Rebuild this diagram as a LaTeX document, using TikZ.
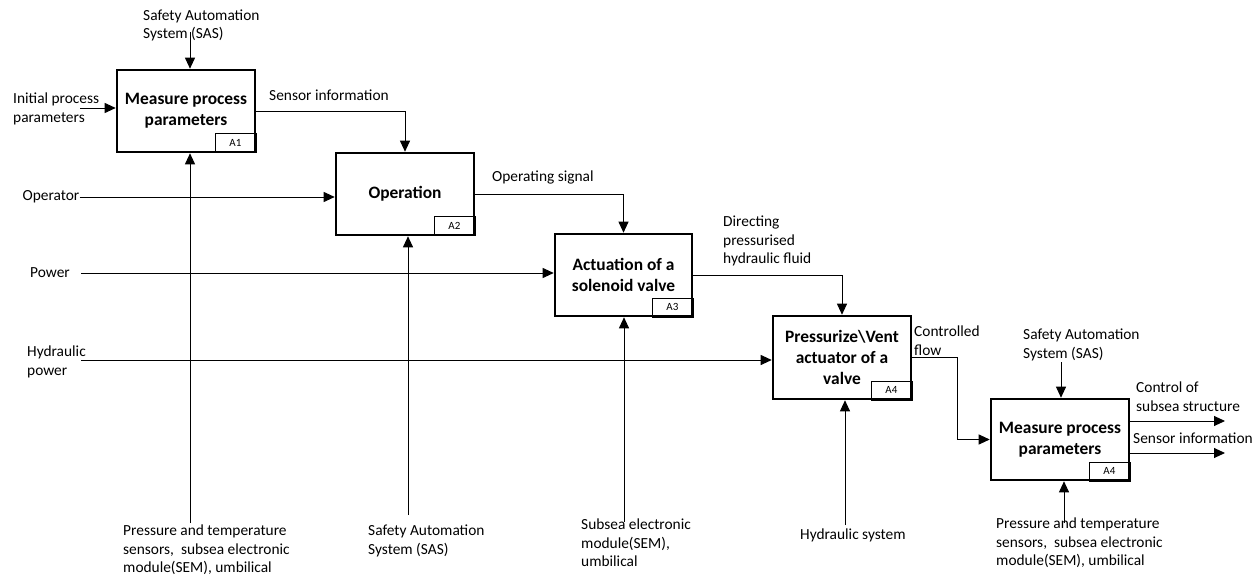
\documentclass[tikz,border=0pt]{standalone}
\usepackage{fontspec}
\setmainfont{Carlito}
\usetikzlibrary{arrows.meta}
\begin{document}
\begin{tikzpicture}[x=1pt,y=-1pt,
  box/.style={draw, line width=2.6pt, minimum width=138pt, minimum height=82pt, inner sep=0pt, align=center, font=\fontsize{17.4}{21}\selectfont\bfseries},
  tag/.style={draw, line width=0.8pt, minimum width=41pt, minimum height=19pt, inner sep=0pt, font=\fontsize{11}{12}\selectfont, anchor=south east},
  lbl/.style={inner sep=0pt, align=left, anchor=west, font=\fontsize{15.4}{18.6}\selectfont},
  arr/.style={line width=0.9pt, -{Triangle[length=11pt,width=10pt]}},
  ln/.style={line width=0.9pt}]
\useasboundingbox (0,0) rectangle (1260,577);

% boxes
\node[box] (b1) at (186,111) {Measure process\\parameters};
\node[box] (b2) at (405,194) {Operation};
\node[box, minimum width=137pt] (b3) at (623.5,275) {Actuation of a\\solenoid valve};
\node[box, minimum height=83pt] (b4) at (842,357.5) {Pressurize\textbackslash Vent\\actuator of a\\valve};
\node[box, minimum height=81pt] (b5) at (1060,439.5) {Measure process\\parameters};

\node[tag] (t1) at (b1.south east) {A1};
\node[tag] (t2) at (b2.south east) {A2};
\node[tag] (t3) at (b3.south east) {A3};
\node[tag] (t4) at (b4.south east) {A4};
\node[tag] (t5) at (b5.south east) {A4};

% labels
\node[lbl] (Lsas1) at (143,25.5) {Safety Automation\\System (SAS)};
\node[lbl] (Linit) at (13,109) {Initial process\\parameters};
\node[lbl] (Lsens) at (269,95) {Sensor information};
\node[lbl, anchor=east] (Lop) at (79.5,197) {Operator};
\node[lbl] (Lopsig) at (492,177) {Operating signal};
\node[lbl] (Lpow) at (30,273) {Power};
\node[lbl] (Lhyd) at (27,362) {Hydraulic\\power};
\node[lbl] (Ldir) at (723,241) {Directing\\pressurised\\hydraulic fluid};
\node[lbl] (Lcf) at (914,341) {Controlled\\flow};
\node[lbl] (Lsas5) at (1023,345) {Safety Automation\\System (SAS)};
\node[lbl] (Lctl) at (1136,397) {Control of\\subsea structure};
\node[lbl] (Lsens2) at (1133,438) {Sensor information};
\node[lbl] (Lm1) at (123,550) {Pressure and temperature\\sensors,\ \ subsea electronic\\module(SEM), umbilical};
\node[lbl] (Lm2) at (368,541) {Safety Automation\\System (SAS)};
\node[lbl] (Lm3) at (581,543) {Subsea electronic\\module(SEM),\\umbilical};
\node[lbl] (Lm4) at (800,535) {Hydraulic system};
\node[lbl] (Lm5) at (996,543) {Pressure and temperature\\sensors,\ \ subsea electronic\\module(SEM), umbilical};

% free ends
\coordinate (c1) at (190,32);
\coordinate (i1) at (80,108);
\coordinate (i3) at (81,273);
\coordinate (i4) at (81,360);
\coordinate (m1) at (190,523);
\coordinate (m2) at (408,515);
\coordinate (m3) at (624,522);
\coordinate (m4) at (845,525);
\coordinate (m5) at (1064,523);
\coordinate (c5) at (1061,362);
\coordinate (k4) at (957,357.5);
\coordinate (o1) at (1225,421);
\coordinate (o2) at (1225,453);

% controls from top
\draw[arr] (c1) -- (c1 |- b1.north);
\draw[arr] (c5) -- (c5 |- b5.north);

% inputs from left
\draw[arr] (i1) -- (i1 -| b1.west);
\draw[arr] (Lop.east) -- (Lop.east -| b2.west);
\draw[arr] (i3) -- (i3 -| b3.west);
\draw[arr] (i4) -- (i4 -| b4.west);

% mechanisms from below
\draw[arr] (m1) -- (m1 |- b1.south);
\draw[arr] (m2) -- (m2 |- b2.south);
\draw[arr] (m3) -- (m3 |- b3.south);
\draw[arr] (m4) -- (m4 |- b4.south);
\draw[arr] (m5) -- (m5 |- b5.south);

% flow between boxes
\draw[arr] (b1.east) -| (b2.north);
\draw[arr] (b2.east) -| (b3.north);
\draw[arr] (b3.east) -| (b4.north);
\draw[arr] (b4.east) -- (k4) |- (b5.west);

% outputs
\draw[arr] (o1 -| b5.east) -- (o1);
\draw[arr] (o2 -| b5.east) -- (o2);
\end{tikzpicture}
\end{document}
